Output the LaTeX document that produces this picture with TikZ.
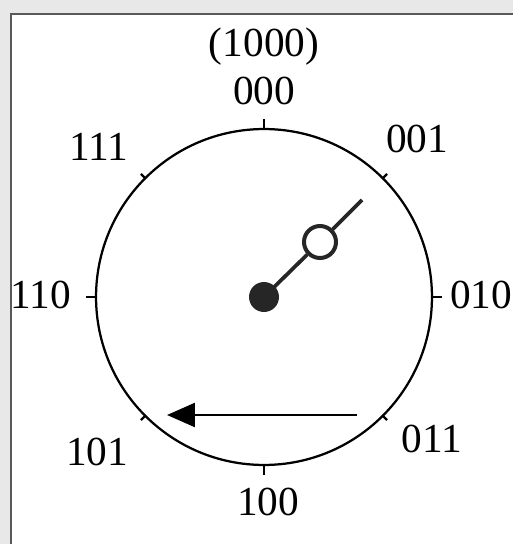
\documentclass[tikz,border=0pt]{standalone}
\usepackage{fontspec}
\setmainfont{Liberation Serif}
\usetikzlibrary{arrows.meta}

\begin{document}
\begin{tikzpicture}[x=0.02cm, y=-0.02cm,
    code/.style={anchor=base, inner sep=0pt, font=\fontsize{23.5}{28}\selectfont},
    needle/.style={line width=0.075cm, black!85}]
    % page and frame
    \useasboundingbox (0,0) rectangle (513,544);
    \fill[black!9] (0,0) rectangle (513,544);
    \fill[white] (11,14) rectangle (513,544);
    \draw[black!65, line width=0.03cm] (11,544) -- (11,14) -- (513,14);

    % dial
    \coordinate (hub) at (264,297);
    \draw[line width=0.045cm] (hub) circle[radius=3.36cm];
    % ticks
    \foreach \a in {0,90,180,270}
        \draw[line width=0.045cm] (hub) ++(\a:3.36cm) -- ++(\a:0.2cm);
    \foreach \a in {45,135,225,315}
        \draw[line width=0.045cm] (hub) ++(\a:3.36cm) -- ++(\a:0.12cm);

    % state codes
    \node[code] (top)  at (264,57)  {(1000)};
    \node[code] (s000) at (264,105) {000};
    \node[code] (s001) at (417,153) {001};
    \node[code] (s010) at (481,308) {010};
    \node[code] (s011) at (432,452) {011};
    \node[code] (s100) at (268,515) {100};
    \node[code] (s101) at (97,465)  {101};
    \node[code] (s110) at (41,308)  {110};
    \node[code] (s111) at (99,160)  {111};

    % pointer
    \coordinate (tip) at (362,200);
    \node[circle, draw=black!85, line width=0.08cm, fill=white, minimum size=0.64cm, inner sep=0pt] (ring) at (320,242) {};
    \draw[needle] (hub) -- (ring);
    \draw[needle] (ring) -- (tip);
    \node[circle, fill=black!85, minimum size=0.6cm, inner sep=0pt] (dot) at (hub) {};

    % direction of rotation
    \coordinate (from) at (357,415);
    \coordinate (to) at (167,415);
    \draw[line width=0.05cm, -{Triangle[length=0.56cm, width=0.48cm]}] (from) -- (to);
\end{tikzpicture}
\end{document}
